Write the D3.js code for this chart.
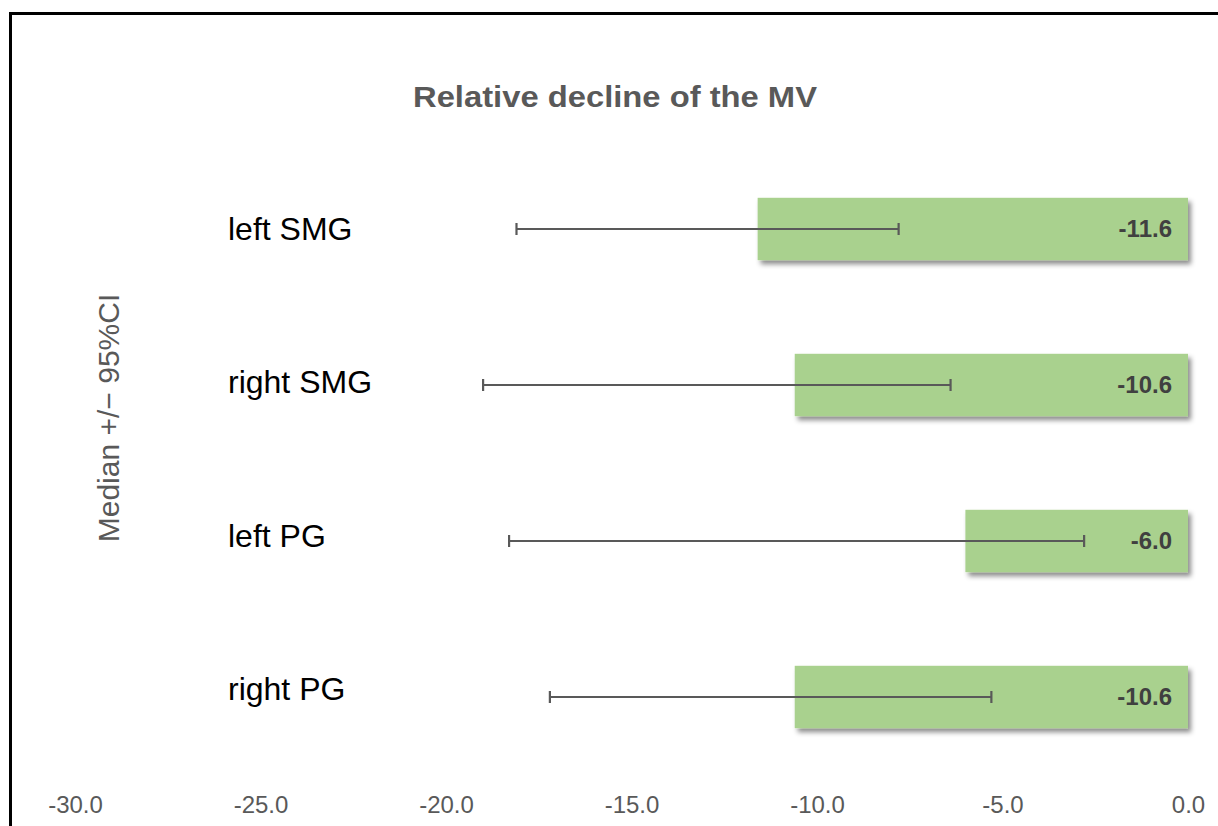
<!DOCTYPE html>
<html><head><meta charset="utf-8">
<script src="https://cdn.jsdelivr.net/npm/d3@7"></script>
<style>
html,body{margin:0;padding:0;background:#fff;}
svg{display:block;font-family:"Liberation Sans",Arial,sans-serif;}
</style></head>
<body>
<svg id="chart" width="1218" height="826"></svg>
<script>
const categories = ["left SMG", "right SMG", "left PG", "right PG"];
const medians = [-11.6, -10.6, -6.0, -10.6];
const ciLow = [-18.1, -19.0, -18.3, -17.2];
const ciHigh = [-7.8, -6.4, -2.8, -5.3];
const tickValues = [-30, -25, -20, -15, -10, -5, 0];
const titleText = "Relative decline of the MV";
const yTitle = "Median +/\u2212 95%CI";

const svg = d3.select("#chart");

// frame
svg.append("rect").attr("x", 10.5).attr("y", 13.5).attr("width", 1300).attr("height", 900)
  .attr("fill", "none").attr("stroke", "#000").attr("stroke-width", 3);

const defs = svg.append("defs");
const f = defs.append("filter").attr("id", "shadow").attr("x", "-5%").attr("y", "-20%").attr("width", "115%").attr("height", "160%");
f.append("feDropShadow").attr("dx", 3).attr("dy", 4).attr("stdDeviation", 2.5)
  .attr("flood-color", "#000").attr("flood-opacity", 0.45);

const x = d3.scaleLinear().domain([-30, 0]).range([75, 1188]);
const y = d3.scaleBand().domain(categories).range([119.8, 806.2]).paddingInner(0.6).paddingOuter(0.5);
const yLab = d3.scalePoint().domain(categories).range([229, 689]);

// title
svg.append("text").attr("x", 615).attr("y", 107).attr("text-anchor", "middle")
  .attr("font-size", 29).attr("font-weight", "bold").attr("fill", "#595959")
  .attr("textLength", 404).attr("lengthAdjust", "spacingAndGlyphs")
  .text(titleText);

// y title
svg.append("text").attr("transform", "translate(119,418) rotate(-90)")
  .attr("text-anchor", "middle").attr("font-size", 30).attr("fill", "#595959")
  .text(yTitle);

// bars
svg.append("g").selectAll("rect").data(categories).join("rect")
  .attr("x", (d, i) => x(medians[i]))
  .attr("y", d => y(d))
  .attr("width", (d, i) => x(0) - x(medians[i]))
  .attr("height", y.bandwidth())
  .attr("fill", "#a9d18e")
  .attr("filter", "url(#shadow)");

// error bars
const eb = svg.append("g").attr("stroke", "#595959").attr("stroke-width", 2.2).attr("fill", "none");
categories.forEach((c, i) => {
  const cy = y(c) + y.bandwidth() / 2;
  eb.append("line").attr("x1", x(ciLow[i])).attr("x2", x(ciHigh[i])).attr("y1", cy).attr("y2", cy);
  eb.append("line").attr("x1", x(ciLow[i])).attr("x2", x(ciLow[i])).attr("y1", cy - 6).attr("y2", cy + 6);
  eb.append("line").attr("x1", x(ciHigh[i])).attr("x2", x(ciHigh[i])).attr("y1", cy - 6).attr("y2", cy + 6);
});

// value labels
svg.append("g").selectAll("text").data(categories).join("text")
  .attr("x", 1172).attr("y", d => y(d) + y.bandwidth() / 2 + 8)
  .attr("text-anchor", "end").attr("font-size", 24).attr("font-weight", "bold").attr("fill", "#404040")
  .text((d, i) => medians[i].toFixed(1));

// category labels
svg.append("g").selectAll("text").data(categories).join("text")
  .attr("x", 228).attr("y", d => yLab(d) + 11)
  .attr("font-size", 32).attr("fill", "#000")
  .text(d => d);

// x axis
const axis = d3.axisBottom(x).tickValues(tickValues).tickFormat(d => d.toFixed(1)).tickSize(0).tickPadding(0);
const ax = svg.append("g").attr("transform", "translate(0,789)").call(axis);
ax.select(".domain").remove();
ax.selectAll("text").attr("font-size", 24).attr("fill", "#595959")
  .attr("font-family", "'Liberation Sans',Arial,sans-serif").attr("dy", "1em");
</script>
</body></html>
